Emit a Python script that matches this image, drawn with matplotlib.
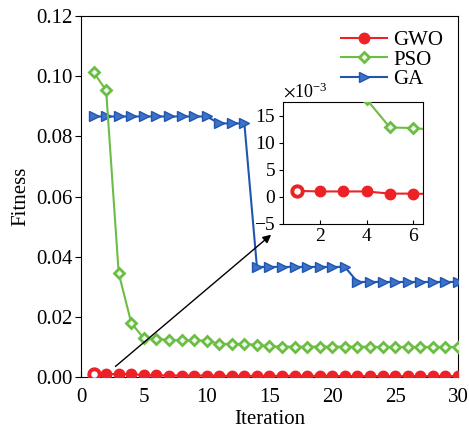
import matplotlib
matplotlib.use("Agg")
import matplotlib.pyplot as plt
import numpy as np
from matplotlib.ticker import ScalarFormatter

plt.rcParams['font.family'] = ['Liberation Serif', 'DejaVu Serif']
plt.rcParams['mathtext.fontset'] = 'stix'
plt.rcParams['font.size'] = 15

iterations = np.arange(1, 31)
gwo = [0.0011, 0.0010, 0.0010, 0.0010, 0.0006, 0.0006, 0.0005, 0.0005, 0.0005, 0.0005,
       0.0004, 0.0004, 0.0004, 0.0004, 0.0004, 0.0004, 0.0004, 0.0004, 0.0004, 0.0004,
       0.0003, 0.0003, 0.0003, 0.0003, 0.0003, 0.0003, 0.0003, 0.0003, 0.0003, 0.0003]
pso = [0.1013, 0.0953, 0.0345, 0.0180, 0.0128, 0.0127, 0.0123, 0.0122, 0.0122, 0.0121,
       0.0110, 0.0110, 0.0110, 0.0107, 0.0102, 0.0101, 0.0101, 0.0101, 0.0101, 0.0101,
       0.0101, 0.0101, 0.0100, 0.0100, 0.0100, 0.0100, 0.0100, 0.0100, 0.0100, 0.0100]
ga = [0.0866, 0.0866, 0.0866, 0.0866, 0.0866, 0.0866, 0.0866, 0.0866, 0.0866, 0.0866,
      0.0843, 0.0843, 0.0843, 0.0366, 0.0366, 0.0366, 0.0366, 0.0366, 0.0366, 0.0366,
      0.0366, 0.0316, 0.0316, 0.0316, 0.0316, 0.0316, 0.0316, 0.0316, 0.0316, 0.0316]

red = '#ec2227'
green = '#6cbd45'
blue = '#1f56b0'


def draw_series(ax, lw=1.5):
    ax.plot(iterations, ga, color=blue, lw=lw, marker='>', ms=7.5,
            mfc='#3d72c8', mec=blue, label='GA', zorder=3)
    ax.plot(iterations, pso, color=green, lw=lw, marker='D', ms=5,
            mfc='#eef8e8', mec=green, mew=2, label='PSO', zorder=3)
    ax.plot(iterations, gwo, color=red, lw=lw, marker='o', ms=7.5,
            mfc=red, mec=red, label='GWO', zorder=4)
    ax.plot(iterations[:1], gwo[:1], ls='none', marker='o', ms=7.5,
            mfc='white', mec=red, mew=2.8, zorder=5)


fig = plt.figure(figsize=(4.69, 4.29), dpi=100)
ax = fig.add_axes([0.1727, 0.1212, 0.8038, 0.8415])
draw_series(ax)
ax.set_xlim(0, 30)
ax.set_ylim(0, 0.12)
ax.set_xticks(np.arange(0, 31, 5))
ax.set_yticks(np.arange(0, 0.121, 0.02))
ax.set_yticklabels([f'{v:.2f}' for v in np.arange(0, 0.121, 0.02)])
ax.tick_params(axis='x', direction='in', length=4, pad=8)
ax.tick_params(axis='y', direction='out', length=4, pad=2)
ax.set_xlabel('Iteration', labelpad=2)
ax.set_ylabel('Fitness', labelpad=4)

h, l = ax.get_legend_handles_labels()
order = [2, 1, 0]
ax.legend([h[i] for i in order], [l[i] for i in order], loc='upper right',
          frameon=False, handlelength=2.2, handletextpad=0.3, labelspacing=0.0,
          borderaxespad=0.3, fontsize=15)

ax.annotate('', xy=(15.3, 0.0479), xytext=(2.57, 0.0029),
            arrowprops=dict(arrowstyle='-|>', color='black', lw=1, mutation_scale=12))

ins = fig.add_axes([0.6034, 0.4779, 0.2985, 0.2844])
draw_series(ins)
ins.set_xlim(0.42, 6.42)
ins.set_ylim(-0.005, 0.0175)
ins.set_xticks([2, 4, 6])
ins.set_yticks([-0.005, 0, 0.005, 0.01, 0.015])
fmt = ScalarFormatter(useMathText=True)
fmt.set_powerlimits((-3, -3))
ins.yaxis.set_major_formatter(fmt)
ins.tick_params(axis='x', direction='in', length=3, pad=3, labelsize=14)
ins.tick_params(axis='y', direction='out', length=3, pad=2, labelsize=14)
ins.yaxis.get_offset_text().set_fontsize(13)

fig.savefig('out.png', dpi=100)
